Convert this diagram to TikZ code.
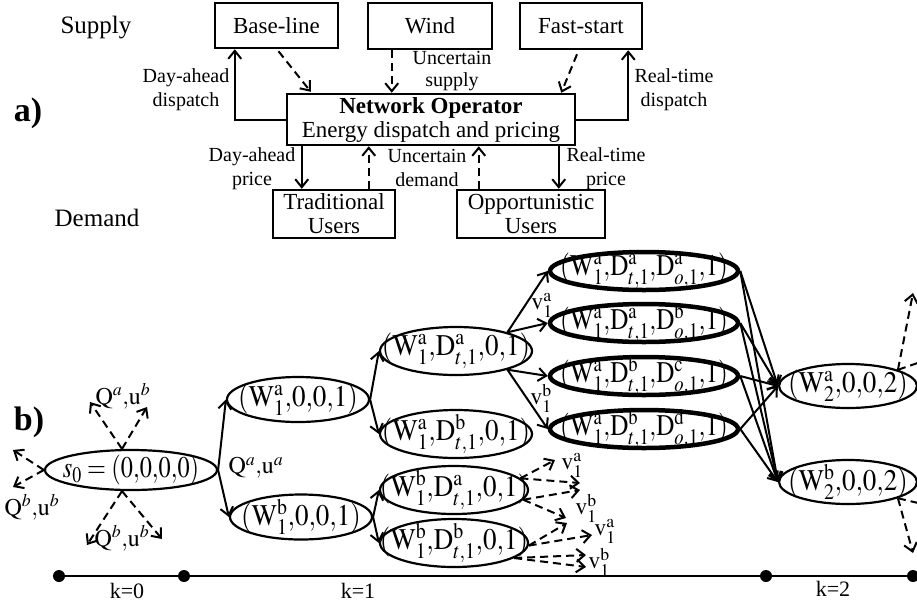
\documentclass[tikz,border=0pt]{standalone}
\usepackage{graphicx}
\usepackage{mathptmx}
\usepackage{fontspec}
\setmainfont{Liberation Serif}
\usetikzlibrary{arrows.meta,calc,shapes.geometric}
\newcommand\myW[2]{\mathrm{W}^{\mathrm{#1}}_{#2}}
\newcommand\myDt[1]{\mathrm{D}^{\mathrm{#1}}_{t,1}}
\newcommand\myDo[1]{\mathrm{D}^{\mathrm{#1}}_{o,1}}
\newcommand\myv[1]{\mathrm{v}^{\mathrm{#1}}_{1}}
\newcommand\tallt[1]{\scalebox{1}[1.11]{$#1$}}
\newcommand\tallb[1]{\scalebox{0.93}[1.11]{$#1$}}
\begin{document}
\begin{tikzpicture}[x=1pt,y=-1pt,
  box/.style={draw,line width=2.5pt,rectangle,align=center,inner sep=0pt,font=\fontsize{23}{24}\selectfont},
  lab/.style={align=center,inner sep=0pt,font=\fontsize{20}{24}\selectfont},
  big/.style={inner sep=0pt,font=\fontsize{25}{28}\selectfont},
  part/.style={inner sep=0pt,font=\fontsize{34}{36}\selectfont\bfseries},
  arr/.style={line width=2pt,-{Straight Barb[length=8pt,width=13pt]}},
  darr/.style={arr,dash pattern=on 8pt off 5pt},
  ell/.style={draw,ellipse,line width=2.2pt,inner sep=0pt},
  bell/.style={draw,ellipse,line width=4.5pt,inner sep=0pt,minimum width=188pt,minimum height=38pt},
  et/.style={inner sep=0pt,font=\fontsize{27}{27}\selectfont},
  vl/.style={inner sep=0pt,font=\fontsize{24}{24}\selectfont},
  klab/.style={inner sep=0pt,font=\fontsize{22}{24}\selectfont},
  dot/.style={circle,fill,inner sep=0pt,minimum size=12pt}]
\useasboundingbox (0,0) rectangle (917,606);

% ---------- part a ----------
\node[part] (pa) at (28,113) {a)};
\node[big] (sup) at (96,28) {Supply};
\node[big] (dem) at (97,218) {Demand};

\node[box,minimum width=123pt,minimum height=45pt] (base) at (276.5,25.5) {Base-line};
\node[box,minimum width=124pt,minimum height=46pt] (wind) at (430,26) {Wind};
\node[box,minimum width=122pt,minimum height=46pt] (fast) at (581,26) {Fast-start};
\node[box,minimum width=288pt,minimum height=51pt] (no) at (431,119.5) {\textbf{Network Operator}\\Energy dispatch and pricing};
\node[box,minimum width=122pt,minimum height=48pt] (trad) at (334,214) {Traditional\\Users};
\node[box,minimum width=148pt,minimum height=48pt] (opp) at (531,214) {Opportunistic\\Users};

\draw[arr] (no.west) -| ($(base.south west)+(21,0)$);
\draw[arr] (no.east) -| ($(fast.south east)+(-15,0)$);
\draw[darr] ($(base.south)+(2,2)$) -- ($(no.north west)+(25,-1)$);
\draw[darr] ($(wind.south west)+(25,0)$) -- ($(no.north west)+(106,0)$);
\draw[darr] ($(fast.south)+(-4,4)$) -- ($(no.north east)+(-15,0)$);
\draw[arr] ($(no.south west)+(16,0)$) -- ($(trad.north west)+(30,0)$);
\draw[darr] ($(trad.north west)+(97,0)$) -- ($(no.south west)+(83,0)$);
\draw[darr] ($(opp.north west)+(23,0)$) -- ($(no.south west)+(193,0)$);
\draw[arr] ($(no.south west)+(273,0)$) -- ($(opp.north west)+(103,0)$);

\node[lab] (l1) at (186,90) {Day-ahead\\dispatch};
\node[lab,font=\fontsize{20}{22}\selectfont] (l2) at (452,71) {Uncertain\\supply};
\node[lab] (l3) at (674,90) {Real-time\\dispatch};
\node[lab] (l4) at (252,169) {Day-ahead\\price};
\node[lab] (l5) at (427,168) {Uncertain\\demand};
\node[lab] (l6) at (606,169) {Real-time\\price};

% ---------- part b ----------
\node[part] (pb) at (29,422) {b)};

\node[ell,minimum width=172pt,minimum height=40pt] (s0) at (131,470) {};
\node[et] at (s0) {\scalebox{0.9}[1.11]{$s_0 = (0{,}0{,}0{,}0)$}};

\node[ell,minimum width=142pt,minimum height=45pt] (n1a) at (298,399.5) {};
\node[et] at (n1a) {\tallt{(\myW{a}{1}{,}0{,}0{,}1)}};
\node[ell,minimum width=142pt,minimum height=45pt] (n1b) at (301,517) {};
\node[et] at (n1b) {\tallt{(\myW{b}{1}{,}0{,}0{,}1)}};

\node[ell,minimum width=152pt,minimum height=48pt] (n2aa) at (456,351) {};
\node[et] at (n2aa) {\tallt{(\myW{a}{1}{,}\myDt{a}{,}0{,}1)}};
\node[ell,minimum width=152pt,minimum height=48pt] (n2ab) at (456,434) {};
\node[et] at (n2ab) {\tallt{(\myW{a}{1}{,}\myDt{b}{,}0{,}1)}};
\node[ell,minimum width=148pt,minimum height=48pt] (n2ba) at (454,490) {};
\node[et] at (n2ba) {\tallt{(\myW{b}{1}{,}\myDt{a}{,}0{,}1)}};
\node[ell,minimum width=148pt,minimum height=48pt] (n2bb) at (454,543) {};
\node[et] at (n2bb) {\tallt{(\myW{b}{1}{,}\myDt{b}{,}0{,}1)}};

\node[bell] (b1) at (644,271) {};
\node[et] at (b1) {\tallb{(\myW{a}{1}{,}\myDt{a}{,}\myDo{a}{,}1)}};
\node[bell] (b2) at (644,323) {};
\node[et] at (b2) {\tallb{(\myW{a}{1}{,}\myDt{a}{,}\myDo{b}{,}1)}};
\node[bell] (b3) at (644,376) {};
\node[et] at (b3) {\tallb{(\myW{a}{1}{,}\myDt{b}{,}\myDo{c}{,}1)}};
\node[bell] (b4) at (644,429) {};
\node[et] at (b4) {\tallb{(\myW{a}{1}{,}\myDt{b}{,}\myDo{d}{,}1)}};

\node[ell,minimum width=138pt,minimum height=44pt] (n3a) at (848,386) {};
\node[et] at (n3a) {\tallt{(\myW{a}{2}{,}0{,}0{,}2)}};
\node[ell,minimum width=138pt,minimum height=44pt] (n3b) at (848,482) {};
\node[et] at (n3b) {\tallt{(\myW{b}{2}{,}0{,}0{,}2)}};

% solid transitions
\draw[arr] (s0.east) -- (n1a.west);
\draw[arr] (s0.east) -- (n1b.west);
\node[vl] (qa) at (256,468) {$\mathrm{Q}^{a}{,}\mathrm{u}^{a}$};
\draw[arr] (n1a.east) -- (n2aa.west);
\draw[arr] (n1a.east) -- (n2ab.west);
\draw[arr] (n1b.east) -- (n2ba.west);
\draw[arr] (n1b.east) -- (n2bb.west);
\draw[arr] (n2aa.20) -- (b1.west);
\draw[arr] (n2aa.20) -- (b2.west);
\draw[arr] (n2aa.-20) -- (b3.west);
\draw[arr] (n2aa.-20) -- (b4.west);
\node[vl] (va) at (542,305) {$\myv{a}$};
\node[vl] (vb) at (541,398) {$\myv{b}$};
\foreach \b in {b1,b2,b3,b4}{
  \draw[arr] (\b.east) -- (n3a.west);
  \draw[arr] (\b.east) -- (n3b.west);
}

% dashed transitions of s0
\coordinate (s0t) at ($(s0.north)+(-9,0)$);
\coordinate (s0b) at ($(s0.south)+(-9,0)$);
\coordinate (e1) at (90,402);
\coordinate (e2) at (147,407);
\coordinate (e3) at (13,450);
\coordinate (e4) at (13,487);
\coordinate (e5) at (87,545);
\coordinate (e6) at (162,539);
\draw[darr] (s0t) -- (e1);
\draw[darr] (s0t) -- (e2);
\draw[darr] (s0.west) -- (e3);
\draw[darr] (s0.west) -- (e4);
\draw[darr] (s0b) -- (e5);
\draw[darr] (s0b) -- (e6);
\node[vl] (q1) at (123,396) {$\mathrm{Q}^{a}{,}\mathrm{u}^{b}$};
\node[vl] (q2) at (32,507) {$\mathrm{Q}^{b}{,}\mathrm{u}^{b}$};
\node[vl] (q3) at (122,538) {$\mathrm{Q}^{b}{,}\mathrm{u}^{b}$};

% dashed transitions of the lower k=1 states
\coordinate (f1) at (555,460);
\coordinate (f2) at (580,483);
\coordinate (f3) at (580,490);
\coordinate (f4) at (566,518);
\draw[darr] (n2ba.10) -- (f1);
\draw[darr] (n2ba.10) -- (f2);
\draw[darr] (n2ba.-8) -- (f3);
\draw[darr] (n2ba.-8) -- (f4);
\node[vl] (v1) at (572,465) {$\myv{a}$};
\node[vl] (v2) at (586,508) {$\myv{b}$};
\coordinate (g1) at (567,523);
\coordinate (g2) at (592,535);
\coordinate (g3) at (586,555);
\coordinate (g4) at (586,567);
\draw[darr] (n2bb.-2) -- (g1);
\draw[darr] (n2bb.-2) -- (g2);
\draw[darr] (n2bb.-14) -- (g3);
\draw[darr] (n2bb.-14) -- (g4);
\node[vl] (v3) at (605,531) {$\myv{a}$};
\node[vl] (v4) at (599,562) {$\myv{b}$};

% dashed transitions of k=2 states (leaving the picture)
\coordinate (h1) at (913,293);
\coordinate (h2) at (935,357);
\coordinate (h3) at (913,553);
\coordinate (h4) at (935,507);
\draw[darr] (n3a.18) -- (h1);
\draw[darr] (n3a.18) -- (h2);
\draw[darr] (n3b.-18) -- (h3);
\draw[darr] (n3b.-18) -- (h4);

% timeline
\node[dot] (t0) at (59,576) {};
\node[dot] (t1) at (184,576) {};
\node[dot] (t2) at (766,576) {};
\node[dot] (t3) at (913,576) {};
\draw[line width=2.5pt] (t0) -- (t3);
\node[klab] (k0) at (127,591) {k=0};
\node[klab] (k1) at (358,591) {k=1};
\node[klab] (k2) at (833,589) {k=2};
\end{tikzpicture}
\end{document}
